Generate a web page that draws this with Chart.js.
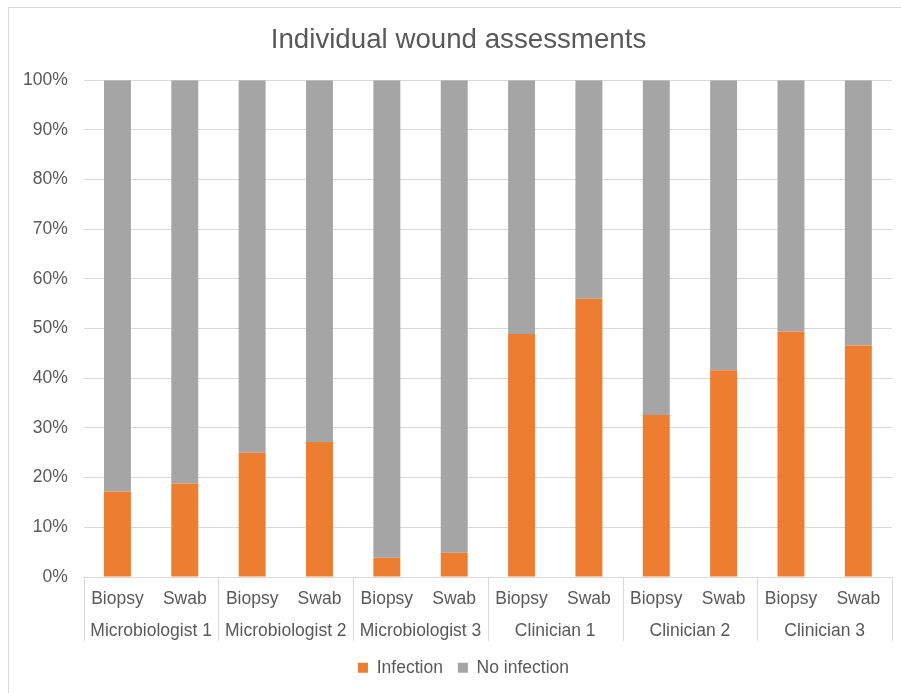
<!DOCTYPE html>
<html>
<head>
<meta charset="utf-8">
<title>Individual wound assessments</title>
<script src="https://cdn.jsdelivr.net/npm/chart.js@4"></script>
<style>
  html, body { margin: 0; padding: 0; background: #fff; overflow: hidden; }
  #wrap { position: relative; width: 901px; height: 693px; }
  #frame { position: absolute; left: 8px; top: 7px; width: 1000px; height: 1000px; border: 1px solid #d9d9d9; box-sizing: border-box; }
  #chart { position: absolute; left: 0; top: 0; }
</style>
</head>
<body>
<div id="wrap">
  <div id="frame"></div>
  <canvas id="chart" width="901" height="693"></canvas>
</div>
<script>
// ─── DATA ──────────────────────────────────────────────────
const assessors  = ['Microbiologist 1', 'Microbiologist 2', 'Microbiologist 3', 'Clinician 1', 'Clinician 2', 'Clinician 3'];
const methods    = ['Biopsy', 'Swab', 'Biopsy', 'Swab', 'Biopsy', 'Swab', 'Biopsy', 'Swab', 'Biopsy', 'Swab', 'Biopsy', 'Swab'];
const infection  = [17.2, 18.8, 25.0, 27.2, 3.9, 4.9, 48.9, 56.0, 32.6, 41.6, 49.4, 46.6];
const noInfection = [82.8, 81.2, 75.0, 72.8, 96.1, 95.1, 51.1, 44.0, 67.4, 58.4, 50.6, 53.4];
const yTicks     = [0, 10, 20, 30, 40, 50, 60, 70, 80, 90, 100];

const TEXT = '#595959';
const GRID = '#d9d9d9';
const FONT = 'Liberation Sans, Arial, sans-serif';
const TICK_FONT = { family: FONT, size: 17.5 };

// the original frame runs past the right edge, so title and legend sit a bit right of centre
const blockShift = {
  id: 'blockShift',
  afterLayout(chart) {
    const t = chart.titleBlock;
    if (t) { t.left += 9; t.right += 9; }
    const l = chart.legend;
    if (l) { l.left += 14; l.right += 14; l.top += 3; l.bottom += 3; }
  },
};

// vertical separators between assessor groups, below the axis
const groupLines = {
  id: 'groupLines',
  afterDraw(chart) {
    const x  = chart.scales.x;
    const x2 = chart.scales.x2;
    const half = x.width / methods.length / 2;
    const ctx = chart.ctx;
    ctx.save();
    ctx.strokeStyle = GRID;
    ctx.lineWidth = 1;
    for (let i = 0; i <= methods.length; i += 2) {
      const px = i < methods.length ? x.getPixelForValue(i) - half : x.getPixelForValue(i - 1) + half;
      const sx = Math.round(px) + 0.5;
      ctx.beginPath();
      ctx.moveTo(sx, x.top);
      ctx.lineTo(sx, x2.bottom);
      ctx.stroke();
    }
    ctx.restore();
  },
};

new Chart(document.getElementById('chart'), {
  type: 'bar',
  data: {
    labels: methods,
    datasets: [
      { label: 'Infection',    data: infection,   backgroundColor: '#ED7D31', barPercentage: 0.4, categoryPercentage: 1 },
      { label: 'No infection', data: noInfection, backgroundColor: '#A5A5A5', barPercentage: 0.4, categoryPercentage: 1 },
    ],
  },
  options: {
    responsive: false,
    animation: false,
    layout: { padding: { left: 7, right: 9, top: 8, bottom: 9.5 } },
    plugins: {
      title: {
        display: true,
        text: 'Individual wound assessments',
        color: TEXT,
        font: { family: FONT, size: 27.7, weight: 'normal' },
        padding: { top: 16, bottom: 23 },
      },
      legend: {
        position: 'bottom',
        labels: {
          color: TEXT,
          font: TICK_FONT,
          boxWidth: 10,
          boxHeight: 10,
          padding: 15,
        },
      },
      tooltip: { enabled: false },
    },
    scales: {
      x: {
        stacked: true,
        weight: 0,
        grid: { display: false, drawTicks: false },
        border: { display: true, color: GRID },
        ticks: { color: TEXT, font: TICK_FONT, padding: 12, autoSkip: false, maxRotation: 0 },
      },
      x2: {
        type: 'category',
        position: 'bottom',
        weight: 1,
        labels: assessors,
        offset: true,
        grid: { display: false, drawTicks: false },
        border: { display: false },
        ticks: { color: TEXT, font: TICK_FONT, padding: -1, autoSkip: false, maxRotation: 0 },
      },
      y: {
        stacked: true,
        min: 0,
        max: 100,
        afterBuildTicks: s => { s.ticks = yTicks.map(v => ({ value: v })); },
        grid: { color: GRID, drawTicks: false },
        border: { display: false },
        ticks: { color: TEXT, font: TICK_FONT, padding: 16, callback: v => v + '%' },
      },
    },
  },
  plugins: [blockShift, groupLines],
});
</script>
</body>
</html>
